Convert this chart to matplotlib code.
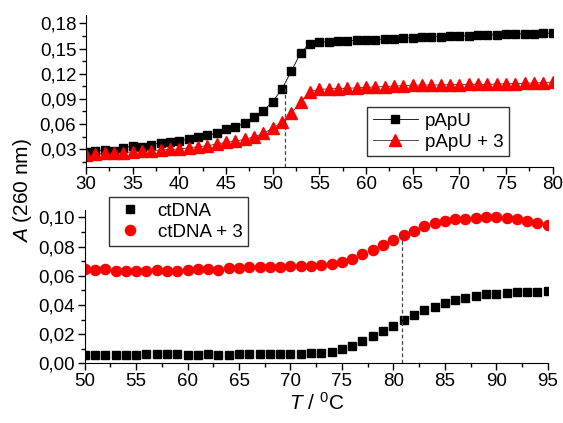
import numpy as np
import matplotlib.pyplot as plt
from matplotlib.ticker import MultipleLocator, FuncFormatter

plt.rcParams['font.family'] = ['Liberation Sans', 'DejaVu Sans']
plt.rcParams['mathtext.fontset'] = 'custom'
plt.rcParams['mathtext.it'] = 'Liberation Sans:italic'
plt.rcParams['mathtext.rm'] = 'Liberation Sans'

# top panel: pApU melting
t_top = np.arange(30, 81)
papu = [0.0268, 0.028, 0.029, 0.028, 0.0316, 0.0336, 0.033, 0.035, 0.0376, 0.0388,
        0.0396, 0.042, 0.044, 0.0467, 0.0487, 0.0535, 0.0567, 0.0607, 0.0686, 0.0758,
        0.0865, 0.102, 0.123, 0.145, 0.156, 0.1573, 0.158, 0.1588, 0.1592, 0.1596,
        0.160, 0.1606, 0.1612, 0.1618, 0.1624, 0.163, 0.1634, 0.1638, 0.1642, 0.1646,
        0.165, 0.1654, 0.1658, 0.1662, 0.1666, 0.167, 0.1673, 0.1676, 0.1679, 0.1682,
        0.1685]
papu3 = [0.0228, 0.0236, 0.0248, 0.0248, 0.0256, 0.0268, 0.0276, 0.028, 0.0288, 0.0296,
         0.030, 0.0316, 0.0328, 0.034, 0.036, 0.038, 0.0396, 0.0415, 0.0447, 0.0487,
         0.0547, 0.0622, 0.0726, 0.0865, 0.0984, 0.1012, 0.1018, 0.1022, 0.1026, 0.103,
         0.1036, 0.1042, 0.1046, 0.1052, 0.1056, 0.1064, 0.1062, 0.1066, 0.1064, 0.107,
         0.107, 0.1072, 0.1074, 0.1072, 0.1076, 0.108, 0.1082, 0.1086, 0.1088, 0.1094,
         0.110]
tm_top = 51.3
tm_top_y = 0.107

# bottom panel: ctDNA melting
t_bot = np.arange(50, 96)
ctdna = [0.0059, 0.0057, 0.0057, 0.0059, 0.0057, 0.0059, 0.0061, 0.0061, 0.0061, 0.0061,
         0.0059, 0.0059, 0.0064, 0.0059, 0.0059, 0.0061, 0.0061, 0.0061, 0.0061, 0.0061,
         0.0066, 0.0064, 0.0068, 0.0073, 0.008, 0.0098, 0.012, 0.0152, 0.0186, 0.022,
         0.0257, 0.030, 0.0334, 0.0364, 0.0389, 0.0416, 0.0436, 0.0448, 0.0461, 0.0473,
         0.0477, 0.0484, 0.0486, 0.0491, 0.0491, 0.0495]
ctdna3 = [0.0643, 0.0641, 0.0643, 0.0632, 0.0634, 0.0634, 0.0634, 0.0636, 0.0634, 0.0634,
          0.0641, 0.0643, 0.0645, 0.0641, 0.0652, 0.0652, 0.0657, 0.0659, 0.0659, 0.0661,
          0.0665, 0.0664, 0.0666, 0.0673, 0.068, 0.0693, 0.0714, 0.0748, 0.0775, 0.0811,
          0.0845, 0.0882, 0.0909, 0.094, 0.0959, 0.0977, 0.0986, 0.099, 0.0995, 0.1002,
          0.100, 0.0993, 0.0986, 0.0975, 0.0959, 0.095]
tm_bot = 80.87
tm_bot_y = 0.088

comma = FuncFormatter(lambda v, p: ('%.2f' % v).replace('.', ','))

fig = plt.figure(figsize=(5.63, 4.23), dpi=100)
ax1 = fig.add_axes([0.1528, 0.606, 0.8289, 0.3585])
ax2 = fig.add_axes([0.1504, 0.1411, 0.8224, 0.3624])

ax1.plot(t_top, papu, '-', color='black', lw=0.6, marker='s', ms=6.2, mfc='black', mec='black', label='pApU')
ax1.plot(t_top, papu3, '-', color='#333333', lw=0.6, marker='^', ms=8, mfc='red', mec='red', label='pApU + 3')
ax1.plot([tm_top, tm_top], [0.009, tm_top_y], '--', color='#444444', lw=0.9, dashes=(3, 2))
ax1.set_xlim(30, 80)
ax1.set_ylim(0.009, 0.19)
ax1.xaxis.set_major_locator(MultipleLocator(5))
ax1.xaxis.set_minor_locator(MultipleLocator(2.5))
ax1.yaxis.set_major_locator(MultipleLocator(0.03))
ax1.yaxis.set_minor_locator(MultipleLocator(0.015))
ax1.yaxis.set_major_formatter(comma)
ax1.legend(loc='upper left', bbox_to_anchor=(0.6519, 0.747), bbox_transform=fig.transFigure,
           fontsize=13.5, frameon=True, fancybox=False, edgecolor='black', handlelength=2.4,
           borderpad=0.3, labelspacing=0.2, handletextpad=0.4, borderaxespad=0)

ax2.plot(t_bot, ctdna, 's', color='black', ms=6.2, label='ctDNA')
ax2.plot(t_bot, ctdna3, 'o', color='red', ms=7.3, label='ctDNA + 3')
ax2.plot([tm_bot, tm_bot], [0, tm_bot_y], '--', color='#444444', lw=0.9, dashes=(3, 2))
ax2.set_xlim(50, 95)
ax2.set_ylim(0, 0.105)
ax2.xaxis.set_major_locator(MultipleLocator(5))
ax2.xaxis.set_minor_locator(MultipleLocator(2.5))
ax2.yaxis.set_major_locator(MultipleLocator(0.02))
ax2.yaxis.set_minor_locator(MultipleLocator(0.01))
ax2.yaxis.set_major_formatter(comma)
ax2.legend(loc='upper left', bbox_to_anchor=(0.1936, 0.5343), bbox_transform=fig.transFigure,
           fontsize=13.5, frameon=True, fancybox=False, edgecolor='black', handlelength=1.6,
           borderpad=0.3, labelspacing=0.2, handletextpad=0.7, borderaxespad=0)
ax2.set_xlabel(r'$\it{T}$ / $^{\rm 0}$C', fontsize=15, labelpad=1)

for ax in (ax1, ax2):
    ax.spines['top'].set_visible(False)
    ax.spines['right'].set_visible(False)
    ax.tick_params(which='major', direction='out', length=5, width=1, labelsize=13.5, pad=2)
    ax.tick_params(which='minor', direction='out', length=3, width=1)
    ax.patch.set_alpha(0)

fig.text(0.04, 0.55, r'$\it{A}$ (260 nm)', rotation=90, fontsize=15, ha='center', va='center')

plt.savefig('out.png', dpi=100)
